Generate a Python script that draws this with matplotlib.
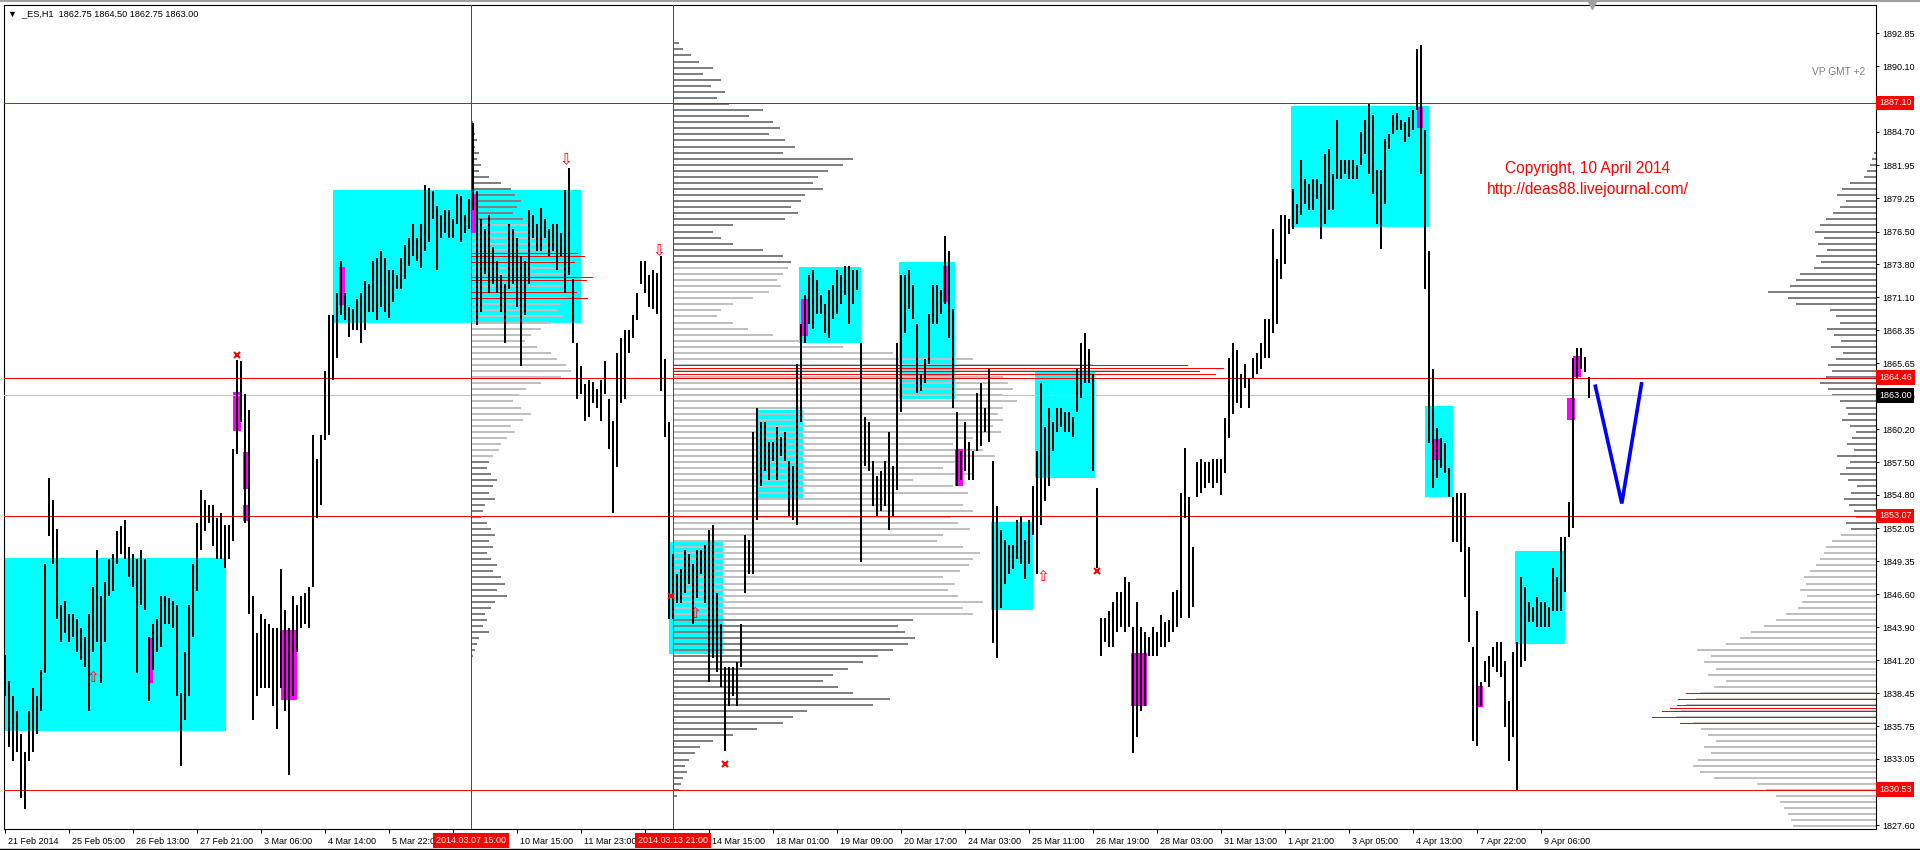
import matplotlib
matplotlib.use("Agg")
import matplotlib.pyplot as plt
import matplotlib.transforms as mtransforms
from matplotlib.patches import Rectangle
from matplotlib.lines import Line2D
import numpy as np

plt.rcParams['font.family'] = ['Liberation Sans', 'DejaVu Sans']

# ---------------- data ----------------
# 2-hour bars (high / low), first bar = 21 Feb 2014
HIGH = [
    1841.6, 1839.5, 1838.2, 1837.0, 1835.1, 1833.6, 1837.0, 1838.9, 1838.2, 1840.4,
    1849.1, 1856.2, 1854.4, 1852.0, 1845.7, 1846.1, 1845.0, 1845.0, 1844.6, 1843.8,
    1843.1, 1845.0, 1847.2, 1850.3, 1846.5, 1847.6, 1849.5, 1849.9, 1851.8, 1852.2,
    1852.7, 1850.5, 1849.9, 1849.5, 1850.3, 1849.5, 1843.1, 1844.2, 1844.6, 1846.5,
    1846.5, 1846.3, 1846.1, 1845.7, 1838.5, 1841.9, 1845.7, 1849.1, 1852.5, 1855.2,
    1854.4, 1854.0, 1854.0, 1852.9, 1853.3, 1852.3, 1852.3, 1858.6, 1865.9, 1865.8,
    1863.1, 1861.8, 1846.5, 1843.4, 1845.0, 1844.6, 1844.2, 1843.8, 1843.8, 1848.7,
    1845.3, 1843.8, 1846.5, 1845.7, 1846.5, 1846.7, 1847.2, 1859.7, 1857.8, 1859.7,
    1865.0, 1869.6, 1869.6, 1871.4, 1874.1, 1871.4, 1870.3, 1870.1, 1870.9, 1871.4,
    1872.4, 1872.2, 1874.1, 1874.3, 1874.9, 1874.3, 1873.3, 1873.3, 1872.9, 1874.3,
    1875.4, 1876.0, 1877.1, 1876.0, 1877.1, 1880.3, 1880.1, 1879.8, 1878.6, 1877.9,
    1878.3, 1878.3, 1877.5, 1879.6, 1879.4, 1877.9, 1879.2, 1885.4, 1879.8, 1877.5,
    1876.7, 1877.9, 1875.2, 1874.1, 1872.9, 1872.2, 1877.1, 1876.7, 1876.0, 1874.5,
    1874.1, 1878.3, 1877.9, 1877.1, 1878.4, 1877.5, 1876.7, 1877.1, 1877.1, 1876.4,
    1879.9, 1881.7, 1872.6, 1867.3, 1865.4, 1863.9, 1864.3, 1864.1, 1863.5, 1864.3,
    1865.8, 1862.7, 1860.9, 1866.5, 1867.7, 1868.4, 1868.4, 1869.6, 1871.4, 1874.1,
    1874.1, 1872.9, 1873.3, 1873.1, 1874.5, 1866.0, 1860.8, 1849.9, 1848.3, 1848.7,
    1850.3, 1849.9, 1849.1, 1850.3, 1850.3, 1850.7, 1851.9, 1852.3, 1846.7, 1844.2,
    1840.6, 1840.6, 1840.6, 1841.0, 1844.2, 1851.5, 1851.1, 1860.0, 1862.0, 1860.8,
    1860.8, 1859.2, 1859.2, 1860.4, 1859.6, 1860.0, 1857.6, 1857.2, 1865.6, 1868.9,
    1871.3, 1872.9, 1873.3, 1872.5, 1871.3, 1870.5, 1871.7, 1872.1, 1873.3, 1872.9,
    1873.7, 1873.7, 1873.3, 1873.3, 1867.3, 1861.2, 1860.8, 1857.6, 1856.4, 1856.8,
    1857.6, 1860.0, 1857.2, 1867.3, 1872.9, 1872.9, 1873.3, 1872.1, 1868.9, 1864.8,
    1866.0, 1869.7, 1872.1, 1872.1, 1871.7, 1876.1, 1874.9, 1870.1, 1861.6, 1858.4,
    1860.8, 1859.2, 1858.4, 1863.2, 1864.0, 1862.0, 1865.2, 1857.6, 1853.9, 1851.9,
    1851.1, 1850.7, 1850.7, 1852.7, 1853.1, 1851.1, 1852.7, 1855.5, 1858.4, 1864.0,
    1860.4, 1862.0, 1860.8, 1862.0, 1862.0, 1861.6, 1861.6, 1861.2, 1865.2, 1867.3,
    1868.1, 1866.8, 1864.8, 1855.4, 1844.7, 1844.7, 1845.2, 1846.0, 1846.8, 1846.8,
    1848.0, 1847.6, 1843.9, 1846.0, 1843.9, 1843.5, 1843.1, 1843.9, 1843.5, 1844.9,
    1844.3, 1844.5, 1846.8, 1847.0, 1855.0, 1858.7, 1854.6, 1850.5, 1857.5, 1857.8,
    1857.5, 1857.5, 1857.8, 1857.8, 1857.8, 1861.1, 1866.1, 1867.3, 1866.7, 1864.8,
    1865.6, 1864.4, 1866.1, 1866.5, 1867.3, 1869.3, 1869.3, 1876.7, 1874.2, 1877.9,
    1877.9, 1877.5, 1880.0, 1878.8, 1882.4, 1880.8, 1880.4, 1880.8, 1880.8, 1880.4,
    1882.9, 1883.3, 1881.2, 1885.7, 1882.4, 1882.4, 1882.4, 1882.4, 1882.0, 1884.7,
    1885.7, 1887.0, 1886.1, 1881.6, 1881.6, 1884.1, 1884.5, 1886.1, 1886.3, 1885.7,
    1885.5, 1885.9, 1886.5, 1891.5, 1891.9, 1884.9, 1874.9, 1865.2, 1860.3, 1859.5,
    1859.1, 1857.0, 1854.6, 1855.0, 1855.0, 1855.0, 1850.5, 1842.3, 1845.2, 1839.4,
    1841.1, 1841.5, 1842.3, 1842.7, 1842.7, 1841.1, 1837.8, 1841.9, 1842.7, 1848.0,
    1847.2, 1846.0, 1845.6, 1846.4, 1846.0, 1846.0, 1845.6, 1848.8, 1848.0, 1851.3,
    1851.3, 1854.2, 1866.1, 1866.9, 1866.9, 1866.2, 1864.5,
]
LOW = [
    1838.2, 1834.0, 1832.9, 1833.6, 1829.8, 1828.9, 1832.9, 1833.6, 1835.1, 1837.0,
    1840.1, 1851.4, 1849.1, 1844.6, 1842.7, 1843.4, 1842.7, 1843.1, 1841.9, 1841.2,
    1840.6, 1837.0, 1841.9, 1842.7, 1839.3, 1842.7, 1846.5, 1846.9, 1849.1, 1849.9,
    1849.5, 1848.0, 1847.2, 1840.1, 1845.7, 1845.3, 1837.8, 1840.4, 1841.9, 1842.3,
    1844.2, 1844.2, 1843.8, 1838.2, 1832.5, 1836.3, 1838.2, 1843.1, 1846.9, 1850.3,
    1851.8, 1852.5, 1850.6, 1849.5, 1849.5, 1848.8, 1849.5, 1851.0, 1858.2, 1860.8,
    1852.5, 1845.0, 1836.3, 1838.2, 1838.9, 1838.9, 1838.9, 1837.4, 1835.5, 1838.9,
    1837.0, 1831.7, 1838.2, 1841.9, 1843.8, 1844.2, 1843.8, 1847.2, 1852.9, 1854.0,
    1859.3, 1859.7, 1864.3, 1866.1, 1869.6, 1869.2, 1867.8, 1868.4, 1868.4, 1867.3,
    1868.4, 1869.9, 1869.9, 1869.2, 1870.3, 1869.9, 1869.4, 1870.7, 1871.8, 1871.8,
    1872.6, 1873.7, 1874.5, 1874.1, 1873.5, 1874.9, 1875.6, 1877.5, 1873.3, 1876.0,
    1876.4, 1876.0, 1876.0, 1877.1, 1875.6, 1876.4, 1876.7, 1878.3, 1868.8, 1869.9,
    1873.0, 1871.4, 1872.2, 1871.4, 1869.9, 1867.3, 1871.8, 1872.2, 1870.3, 1865.4,
    1869.6, 1872.2, 1876.0, 1874.9, 1874.9, 1876.0, 1874.5, 1874.9, 1873.3, 1874.5,
    1871.4, 1872.9, 1867.3, 1862.7, 1863.1, 1860.9, 1861.2, 1862.4, 1862.0, 1860.9,
    1863.1, 1858.6, 1853.3, 1857.1, 1862.4, 1862.7, 1866.5, 1867.7, 1869.2, 1872.2,
    1871.4, 1870.3, 1870.1, 1869.7, 1863.4, 1859.6, 1844.6, 1844.6, 1845.9, 1845.9,
    1846.7, 1847.5, 1844.2, 1846.3, 1848.3, 1845.9, 1839.4, 1841.4, 1840.2, 1839.0,
    1833.7, 1837.4, 1838.2, 1837.4, 1840.6, 1846.7, 1848.3, 1848.3, 1852.7, 1855.5,
    1856.8, 1856.0, 1857.6, 1856.0, 1858.0, 1857.6, 1853.1, 1852.7, 1852.3, 1860.8,
    1867.3, 1868.9, 1868.5, 1869.7, 1869.7, 1868.1, 1867.7, 1869.3, 1869.7, 1870.5,
    1871.3, 1868.9, 1870.5, 1871.7, 1849.3, 1857.2, 1856.8, 1853.9, 1853.1, 1853.5,
    1853.9, 1851.9, 1853.1, 1855.2, 1861.6, 1868.1, 1870.1, 1869.3, 1863.2, 1863.4,
    1864.0, 1865.6, 1868.9, 1868.9, 1869.7, 1870.5, 1867.7, 1862.0, 1855.5, 1856.0,
    1856.8, 1856.0, 1856.0, 1858.4, 1858.8, 1860.0, 1859.2, 1842.6, 1841.4, 1845.5,
    1847.5, 1848.3, 1848.7, 1849.5, 1849.1, 1847.9, 1849.1, 1851.5, 1848.3, 1852.3,
    1854.3, 1855.5, 1858.4, 1860.0, 1860.4, 1860.0, 1860.0, 1859.6, 1861.6, 1862.8,
    1864.0, 1864.0, 1856.8, 1848.8, 1841.5, 1842.7, 1842.3, 1842.3, 1843.5, 1843.9,
    1843.5, 1843.9, 1833.5, 1834.9, 1837.0, 1837.4, 1841.5, 1841.5, 1841.5, 1842.3,
    1842.3, 1842.7, 1843.5, 1843.9, 1844.7, 1852.9, 1844.7, 1845.6, 1854.6, 1855.0,
    1855.4, 1855.8, 1855.4, 1855.8, 1854.8, 1856.6, 1859.5, 1861.5, 1862.4, 1862.0,
    1863.6, 1862.0, 1864.4, 1864.8, 1865.2, 1866.1, 1866.1, 1868.1, 1868.9, 1872.6,
    1873.8, 1876.3, 1876.7, 1877.1, 1877.9, 1878.8, 1878.3, 1878.3, 1879.2, 1875.9,
    1877.1, 1878.3, 1878.3, 1880.8, 1880.8, 1881.2, 1880.8, 1880.8, 1880.8, 1882.0,
    1882.9, 1881.2, 1879.6, 1877.1, 1875.1, 1878.8, 1883.3, 1884.5, 1884.9, 1884.9,
    1883.9, 1884.3, 1884.9, 1886.5, 1881.2, 1871.8, 1859.1, 1855.4, 1856.2, 1857.0,
    1856.6, 1854.6, 1850.9, 1850.9, 1850.1, 1846.4, 1842.7, 1834.5, 1834.1, 1837.4,
    1839.4, 1839.0, 1840.6, 1840.2, 1839.8, 1835.7, 1832.9, 1834.9, 1830.5, 1840.6,
    1841.1, 1844.3, 1844.3, 1843.9, 1843.9, 1843.9, 1843.9, 1845.2, 1845.2, 1845.2,
    1846.8, 1851.3, 1852.1, 1864.4, 1865.2, 1864.9, 1862.75,
]
HOURS_PER_BAR = 2

# labels under the two red time markers are hidden in the reference (empty here)
TIME_LABELS = ["21 Feb 2014", "25 Feb 05:00", "26 Feb 13:00", "27 Feb 21:00", "3 Mar 06:00",
               "4 Mar 14:00", "5 Mar 22:00", "", "10 Mar 15:00", "11 Mar 23:00",
               "", "14 Mar 15:00", "18 Mar 01:00", "19 Mar 09:00", "20 Mar 17:00",
               "24 Mar 03:00", "25 Mar 11:00", "26 Mar 19:00", "28 Mar 03:00", "31 Mar 13:00",
               "1 Apr 21:00", "3 Apr 05:00", "4 Apr 13:00", "7 Apr 22:00", "9 Apr 06:00"]
HOURS_PER_LABEL = 32

PRICE_TICKS = [1892.85, 1890.10, 1887.40, 1884.70, 1881.95, 1879.25, 1876.50, 1873.80,
               1871.10, 1868.35, 1865.65, 1862.90, 1860.20, 1857.50, 1854.80, 1852.05,
               1849.35, 1846.60, 1843.90, 1841.20, 1838.45, 1835.75, 1833.05, 1830.30, 1827.60]

LEVELS = [1887.10, 1864.46, 1853.07, 1830.53]
LAST_PRICE = 1863.00

VLINE_HOUR = [233, 334]
VLINE_LABELS = ["2014.03.07 15:00", "2014.03.13 21:00"]

# cyan zones (hour index start/end, price low/high)
ZONE_START = [-0.5, 164, 332, 375.5, 397, 447, 493, 515, 643, 710, 755]
ZONE_END = [110.5, 288, 359, 399, 428, 475, 514, 545, 712, 724, 780]
ZONE_LOW = [1835.35, 1869.0, 1841.7, 1854.45, 1867.3, 1862.7, 1845.3, 1856.2, 1876.9, 1854.66, 1842.5]
ZONE_HIGH = [1849.6, 1879.93, 1850.9, 1861.8, 1873.6, 1874.0, 1852.6, 1864.9, 1886.8, 1862.16, 1850.2]

# magenta zones
MAG_START = [167, 114, 119, 119, 72, 138, 233, 398, 469, 475, 563, 706, 714, 735.5, 781, 784]
MAG_END = [170, 118, 122, 122, 74, 146, 235.5, 401.5, 472, 479, 571, 709, 718.5, 739, 785, 788]
MAG_LOW = [1870.45, 1860.06, 1855.3, 1852.65, 1839.3, 1837.9, 1876.4, 1867.9, 1870.7, 1855.5,
           1837.4, 1885.0, 1857.7, 1837.3, 1861.0, 1864.5]
MAG_HIGH = [1873.6, 1863.3, 1858.3, 1854.0, 1843.0, 1843.7, 1879.5, 1870.9, 1873.66, 1858.6,
            1841.8, 1886.76, 1859.4, 1839.1, 1862.8, 1866.25]

# volume profiles (row step 0.5 pt, from top price downwards)
ROW_STEP = 0.5
VOL_SCALE = 0.5
P1_TOP = 1885.5
P1_VOL = [2, 3, 4, 6, 4, 8, 6, 10, 8, 18,
          30, 40, 44, 50, 46, 42, 52, 58, 64, 72,
          84, 92, 100, 96, 98, 94, 100, 95, 92, 96,
          90, 86, 92, 80, 70, 60, 54, 66, 80, 86,
          95, 100, 90, 70, 55, 48, 42, 50, 60, 52,
          40, 44, 36, 30, 28, 22, 18, 16, 20, 26,
          22, 18, 24, 14, 12, 10, 16, 20, 24, 18,
          22, 16, 20, 26, 22, 30, 34, 26, 36, 24,
          20, 14, 16, 12, 18, 8, 6, 4, 2]
P1_RED_PRICE = [1874.75, 1874.5, 1874.0, 1872.75, 1872.5, 1871.5, 1871.0]
P1_RED_VOL = [106, 113, 103, 121, 115, 105, 116]

P2_TOP = 1892.0
P2_VOL = [6, 10, 18, 26, 40, 30, 48, 38, 52, 44,
          56, 90, 76, 100, 107, 96, 112, 122, 110, 180,
          170, 155, 145, 140, 150, 132, 128, 118, 125, 112,
          60, 40, 48, 60, 90, 110, 118, 115, 110, 104,
          108, 96, 80, 60, 48, 44, 60, 75, 100, 130,
          170, 220, 300, 420, 447, 330, 335, 340, 330, 344,
          330, 325, 330, 320, 328, 300, 280, 310, 322, 290,
          270, 300, 240, 280, 295, 210, 290, 300, 278, 285,
          297, 270, 264, 290, 307, 300, 296, 287, 270, 282,
          275, 285, 310, 290, 300, 240, 225, 232, 242, 235,
          220, 205, 190, 175, 160, 150, 165, 180, 217, 200,
          134, 120, 110, 84, 60, 40, 27, 22, 16, 12,
          14, 10, 8, 6, 4]
P2_RED_PRICE = [1865.5, 1865.25, 1865.0, 1864.75]
P2_RED_VOL = [514, 550, 526, 542]

P3_TOP = 1883.0
P3_VOL = [2, 4, 6, 9, 12, 26, 34, 39, 30, 36,
          43, 50, 56, 61, 52, 58, 49, 60, 55, 62,
          76, 80, 86, 108, 88, 80, 46, 40, 36, 49,
          42, 35, 45, 33, 40, 48, 44, 50, 56, 48,
          44, 36, 30, 28, 34, 26, 20, 24, 29, 22,
          39, 26, 30, 36, 28, 19, 25, 32, 27, 22,
          20, 30, 25, 35, 44, 50, 52, 56, 60, 66,
          72, 70, 76, 69, 74, 78, 90, 100, 112, 125,
          136, 150, 179, 165, 172, 160, 168, 150, 162, 176,
          180, 190, 195, 200, 183, 175, 168, 160, 172, 165,
          178, 183, 176, 162, 119, 110, 100, 96, 92, 88,
          85, 83]
P3_RED_PRICE = [1838.5, 1838.0, 1837.5, 1837.25, 1837.0, 1836.5, 1836.0]
P3_RED_VOL = [190, 198, 199, 206, 214, 224, 196]

# markers
DOWN_ARROW_HOUR = [280.5, 327]
DOWN_ARROW_PRICE = [1882.4, 1874.9]
UP_ARROW_HOUR = [43.8, 345, 519]
UP_ARROW_PRICE = [1839.8, 1845.0, 1848.1]
CROSS_HOUR = [116, 333, 360, 546]
CROSS_PRICE = [1866.3, 1846.5, 1832.65, 1848.5]

# projected path
V_HOUR = [795, 808.4, 818.4]
V_PRICE = [1863.9, 1854.1, 1864.1]

# ---------------- figure ----------------
W, H = 1920, 850
PX = 72.0 / 100.0  # one pixel in points
fig = plt.figure(figsize=(W / 100, H / 100), dpi=100)
fig.patch.set_facecolor('white')
ax = fig.add_axes([4 / W, 21 / H, 1872 / W, 824 / H])
ax.set_facecolor('white')
XMIN, XMAX = -0.5, 935.5
ax.set_xlim(XMIN, XMAX)
ax.set_ylim(1827.28, 1895.16)

DARK = '#808080'
LIGHT = '#C0C0C0'

# cyan zones
for x0, x1, lo, hi in zip(ZONE_START, ZONE_END, ZONE_LOW, ZONE_HIGH):
    ax.add_patch(Rectangle((x0, lo), x1 - x0, hi - lo, facecolor='#00FFFF',
                           edgecolor='none', zorder=1))


def draw_profile(anchor, top, vols, light_lo, light_hi, direction):
    vols = np.asarray(vols, dtype=float)
    prices = top - ROW_STEP * np.arange(len(vols))
    lengths = vols * VOL_SCALE
    cols = [LIGHT if (light_lo <= p <= light_hi) else DARK for p in prices]
    x0 = anchor if direction > 0 else anchor - lengths
    x1 = anchor + lengths if direction > 0 else anchor
    ax.hlines(prices, x0, x1, colors=cols, linewidth=2 * PX,
              antialiased=False, zorder=2)


def draw_red_rows(anchor, prices, vols, direction):
    lengths = np.asarray(vols, dtype=float) * VOL_SCALE
    x0 = anchor if direction > 0 else anchor - lengths
    x1 = anchor + lengths if direction > 0 else anchor
    ax.hlines(prices, x0, x1, colors='red', linewidth=PX,
              antialiased=False, zorder=2.2)


draw_profile(VLINE_HOUR[0], P1_TOP, P1_VOL, 1858.0, 1877.0, 1)
draw_red_rows(VLINE_HOUR[0], P1_RED_PRICE, P1_RED_VOL, 1)
draw_profile(VLINE_HOUR[1], P2_TOP, P2_VOL, 1845.0, 1873.5, 1)
draw_red_rows(VLINE_HOUR[1], P2_RED_PRICE, P2_RED_VOL, 1)
draw_profile(XMAX, P3_TOP, P3_VOL, 0.0, 1851.5, -1)
draw_red_rows(XMAX, P3_RED_PRICE, P3_RED_VOL, -1)

# magenta zones
for x0, x1, lo, hi in zip(MAG_START, MAG_END, MAG_LOW, MAG_HIGH):
    ax.add_patch(Rectangle((x0, lo), x1 - x0, hi - lo, facecolor='#FF00FF',
                           edgecolor='none', zorder=2.5))

# level lines
for lv in LEVELS:
    ax.axhline(lv, color='red', linewidth=PX, antialiased=False, zorder=3)
ax.axhline(LAST_PRICE, color=LIGHT, linewidth=PX, antialiased=False, zorder=2.8)
for vx in VLINE_HOUR:
    ax.axvline(vx, color='red', linewidth=PX, antialiased=False, zorder=3)

# price bars
bar_x = HOURS_PER_BAR * np.arange(len(HIGH))
ax.vlines(bar_x, LOW, HIGH, colors='black', linewidth=2 * PX, antialiased=False, zorder=4)

# projection
ax.plot(V_HOUR, V_PRICE, color='#0000FF', linewidth=2.6, zorder=5,
        solid_capstyle='butt', solid_joinstyle='miter')

# arrows and crosses
for xh, p in zip(DOWN_ARROW_HOUR, DOWN_ARROW_PRICE):
    ax.text(xh, p, '\u21e9', color='red', fontsize=11, ha='center', va='center',
            family='DejaVu Sans', zorder=6)
for xh, p in zip(UP_ARROW_HOUR, UP_ARROW_PRICE):
    ax.text(xh, p, '\u21e7', color='red', fontsize=11, ha='center', va='center',
            family='DejaVu Sans', zorder=6)
ax.plot(CROSS_HOUR, CROSS_PRICE, linestyle='none', marker='x', color='red',
        markersize=4.5, markeredgewidth=1.5, zorder=6)

# texts
ax.text(791.5, 1881.7, 'Copyright, 10 April 2014', color='red', fontsize=11.2,
        ha='center', va='center', zorder=6)
ax.text(791.5, 1880.0, 'http://deas88.livejournal.com/', color='red', fontsize=11.2,
        ha='center', va='center', zorder=6)
ax.text(930, 1889.6, 'VP GMT +2', color='#808080', fontsize=7.3, ha='right',
        va='center', zorder=6)
ax.annotate('\u25bc  _ES,H1  1862.75 1864.50 1862.75 1863.00', xy=(0, 1),
            xycoords='axes fraction', xytext=(3, -6), textcoords='offset points',
            ha='left', va='center', fontsize=6.6, color='black', zorder=6)
ax.plot([793.5], [1895.16], marker='v', color='#A0A0A0', markersize=6,
        clip_on=False, zorder=6)

# x axis
tick_x = HOURS_PER_LABEL * np.arange(len(TIME_LABELS))
ax.set_xticks(tick_x)
ax.set_xticklabels(TIME_LABELS)
ax.tick_params(axis='x', direction='out', length=3, width=PX, pad=2.5,
               labelsize=6.5, colors='black')
offset = mtransforms.ScaledTranslation(2.5 / 100, 0, fig.dpi_scale_trans)
for lbl in ax.get_xticklabels():
    lbl.set_horizontalalignment('left')
    lbl.set_transform(lbl.get_transform() + offset)

for vx, s in zip(VLINE_HOUR, VLINE_LABELS):
    ax.annotate(s, xy=(vx, 0), xycoords=('data', 'axes fraction'), xytext=(0, -8.2),
                textcoords='offset points', ha='center', va='center', fontsize=6.5,
                color='white', annotation_clip=False, zorder=10,
                bbox=dict(boxstyle='square,pad=0.3', fc='red', ec='none'))

# y axis
ax.yaxis.tick_right()
ax.set_yticks(PRICE_TICKS)
ax.set_yticklabels([f'{v:.2f}' for v in PRICE_TICKS])
ax.tick_params(axis='y', direction='out', length=2.5, width=PX, pad=1.8,
               labelsize=6.5, colors='black')
for lv in LEVELS:
    ax.annotate(f'{lv:.2f}', xy=(1, lv), xycoords=('axes fraction', 'data'),
                xytext=(2.2, 0), textcoords='offset points', ha='left', va='center',
                fontsize=6.5, color='white', annotation_clip=False, zorder=10,
                bbox=dict(boxstyle='square,pad=0.3', fc='red', ec='none'))
ax.annotate(f'{LAST_PRICE:.2f}', xy=(1, LAST_PRICE), xycoords=('axes fraction', 'data'),
            xytext=(2.2, 0), textcoords='offset points', ha='left', va='center',
            fontsize=6.5, color='white', annotation_clip=False, zorder=10,
            bbox=dict(boxstyle='square,pad=0.3', fc='black', ec='none'))

for sp in ax.spines.values():
    sp.set_color('black')
    sp.set_linewidth(0.8)

# window frame
fig.add_artist(Line2D([0, 1], [1 - 1 / H, 1 - 1 / H], color='#A0A0A0', linewidth=1.5))
fig.add_artist(Line2D([0, 1], [1.5 / H, 1.5 / H], color='black', linewidth=1.0))

fig.savefig('out.png', dpi=100, facecolor='white')
